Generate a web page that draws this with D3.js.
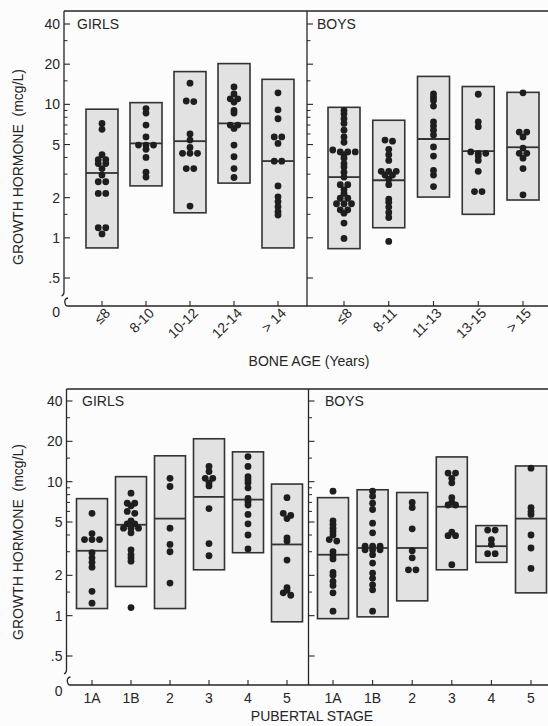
<!DOCTYPE html>
<html><head><meta charset="utf-8">
<script src="https://cdn.jsdelivr.net/npm/d3@7"></script>
<style>html,body{margin:0;background:#fcfcfc}svg{display:block}</style>
</head><body><svg id="chart" width="548" height="726"></svg>
<script>
// Y axis ticks (log scale, mcg/L)
const yMajor = [40, 20, 10, 5, 2, 1, 0.5];
const yMajorLabels = ["40", "20", "10", "5", "2", "1", ".5"];
const yMinor = [30, 15, 9, 8, 7, 6, 4, 3, 1.5];

// Bone age — girls
const boneGirlsCats = ["≤8", "8-10", "10-12", "12-14", "> 14"];
const boneGirlsLow = [0.84, 2.45, 1.54, 2.57, 0.84];
const boneGirlsMedian = [3.06, 5.1, 5.3, 7.2, 3.76];
const boneGirlsHigh = [9.2, 10.3, 17.6, 20.2, 15.4];
const boneGirlsPoints = [
  [7.2, 6.5, 4.2, 3.85, 3.85, 3.6, 3.6, 3.3, 2.95, 2.63, 2.63, 2.15, 2.15, 1.19, 1.19, 1.07],
  [9.3, 8.6, 7.0, 5.7, 4.95, 4.95, 4.95, 4.6, 4.0, 3.1, 2.85],
  [14.4, 10.6, 10.5, 6.0, 5.4, 4.75, 4.3, 4.3, 4.3, 3.3, 3.3, 1.73],
  [13.5, 12.0, 11.0, 11.0, 10.4, 9.0, 8.6, 7.0, 7.0, 6.6, 4.95, 4.05, 3.3, 2.83],
  [12.2, 9.1, 7.8, 5.7, 5.7, 5.1, 3.75, 3.75, 2.45, 2.03, 1.87, 1.71, 1.57, 1.48]
];

// Bone age — boys
const boneBoysCats = ["≤8", "8-11", "11-13", "13-15", "> 15"];
const boneBoysLow = [0.83, 1.19, 2.02, 1.5, 1.92];
const boneBoysMedian = [2.85, 2.7, 5.5, 4.46, 4.77];
const boneBoysHigh = [9.5, 7.6, 16.2, 13.6, 12.3];
const boneBoysPoints = [
  [9.0, 8.5, 7.8, 7.2, 6.4, 5.7, 5.2, 4.55, 4.4, 4.4, 4.4, 4.2, 3.95, 3.6, 3.4, 3.1, 2.85, 2.5, 2.5, 2.3, 2.15, 1.98, 1.98, 1.8, 1.8, 1.8, 1.62, 1.62, 1.53, 1.29, 0.99],
  [5.4, 5.3, 4.6, 4.2, 3.8, 3.15, 3.15, 3.15, 2.95, 2.95, 2.75, 2.5, 1.95, 1.85, 1.7, 1.55, 1.42, 0.94],
  [12.0, 11.3, 10.7, 9.7, 7.4, 6.9, 6.4, 5.9, 4.8, 4.1, 3.2, 2.95, 2.42],
  [11.9, 7.4, 6.8, 4.4, 4.3, 4.3, 4.1, 3.8, 3.15, 2.22, 2.22],
  [12.2, 6.2, 6.2, 5.7, 4.7, 4.3, 4.3, 3.95, 3.3, 2.1]
];

// Pubertal stage — girls
const pubGirlsCats = ["1A", "1B", "2", "3", "4", "5"];
const pubGirlsLow = [1.13, 1.65, 1.13, 2.2, 2.95, 0.9];
const pubGirlsMedian = [3.05, 4.77, 5.3, 7.7, 7.35, 3.4];
const pubGirlsHigh = [7.47, 10.9, 15.6, 20.9, 16.7, 9.6];
const pubGirlsPoints = [
  [5.8, 4.1, 3.7, 3.7, 3.7, 2.95, 2.7, 2.5, 2.3, 1.52, 1.24],
  [8.2, 6.9, 6.9, 6.6, 6.0, 5.8, 5.1, 4.85, 4.85, 4.5, 4.5, 4.5, 4.15, 3.1, 2.85, 2.7, 2.55, 1.15],
  [10.6, 9.2, 4.5, 3.4, 3.0, 1.75],
  [13.0, 11.9, 10.6, 10.6, 9.8, 9.3, 6.3, 3.45, 2.8],
  [15.4, 13.0, 10.9, 10.3, 9.8, 9.0, 7.5, 7.1, 6.7, 5.7, 4.85, 4.0, 3.15],
  [7.6, 5.8, 5.6, 5.3, 3.8, 3.6, 2.6, 1.62, 1.55, 1.48, 1.42]
];

// Pubertal stage — boys
const pubBoysCats = ["1A", "1B", "2", "3", "4", "5"];
const pubBoysLow = [0.95, 0.98, 1.29, 2.2, 2.5, 1.48];
const pubBoysMedian = [2.85, 3.2, 3.2, 6.5, 3.3, 5.3];
const pubBoysHigh = [7.6, 8.7, 8.3, 15.3, 4.7, 13.1];
const pubBoysPoints = [
  [8.5, 5.1, 4.8, 4.5, 4.25, 4.0, 3.7, 3.6, 3.0, 2.8, 2.65, 2.1, 2.0, 1.8, 1.68, 1.48, 1.08],
  [8.5, 7.8, 6.9, 6.2, 4.9, 4.15, 3.3, 3.3, 3.3, 3.1, 3.1, 3.1, 2.85, 2.47, 2.08, 1.9, 1.7, 1.56, 1.08],
  [7.0, 6.4, 4.45, 3.05, 2.7, 2.2, 2.2],
  [11.6, 11.6, 10.6, 9.8, 7.6, 7.0, 6.7, 6.7, 4.2, 3.95, 3.95, 2.4],
  [4.35, 4.35, 3.7, 3.4, 2.9, 2.9],
  [12.6, 6.4, 6.0, 5.7, 4.0, 3.2, 2.25]
];

const W = 548;
const INK = "#262626";
const FONT = "'Liberation Sans', Arial, Helvetica, sans-serif";
const svg = d3.select("#chart").style("font-family", FONT);

// Points whose values nearly coincide sit side by side in a centred row
function dodge(vals, y, cx, step) {
  const pts = vals.map(v => ({ v, y: y(v) })).sort((a, b) => a.y - b.y);
  const rows = [];
  pts.forEach(p => {
    const last = rows[rows.length - 1];
    if (last && Math.abs(p.y - last[0].y) < 2.5) last.push(p); else rows.push([p]);
  });
  const out = [];
  rows.forEach(r => r.forEach((p, i) => out.push({ v: p.v, y: p.y, x: cx + (i - (r.length - 1) / 2) * step })));
  return out;
}

function drawPanel(cfg) {
  const y = d3.scaleLog().domain([0.5, 40]).range(cfg.yRange);
  const g = svg.append("g");
  const line = (x1, y1, x2, y2, w) => g.append("line")
    .attr("x1", x1).attr("y1", y1).attr("x2", x2).attr("y2", y2)
    .attr("stroke", INK).attr("stroke-width", w || 1.3);

  const breakY = y(0.5) + 14;
  // frame
  line(cfg.axisX, cfg.top, W, cfg.top);
  line(cfg.axisX, cfg.top, cfg.axisX, breakY);
  line(cfg.divX, cfg.top, cfg.divX, cfg.base);
  // axis break marks and baseline
  g.append("path")
    .attr("d", `M${cfg.axisX},${breakY} q0,3 -2.5,4`)
    .attr("fill", "none").attr("stroke", INK).attr("stroke-width", 1.3);
  g.append("path")
    .attr("d", `M${cfg.axisX + 4},${cfg.base - 8} q-4,1 -3,5 q0.5,3 2,3 L${W},${cfg.base}`)
    .attr("fill", "none").attr("stroke", INK).attr("stroke-width", 1.3);

  // y ticks on the outer axis and on the divider
  [cfg.axisX, cfg.divX].forEach(ax => {
    yMajor.forEach(v => line(ax, y(v), ax + 6, y(v), 1.1));
    yMinor.forEach(v => line(ax, y(v), ax + 3.5, y(v), 1));
  });
  g.selectAll("text.ylab").data(yMajor).join("text")
    .attr("x", cfg.axisX - 4).attr("y", d => y(d)).attr("dy", "0.36em")
    .attr("text-anchor", "end").attr("font-size", 14).attr("fill", INK)
    .text((d, i) => yMajorLabels[i]);
  g.append("text").attr("x", cfg.axisX - 4).attr("y", cfg.base + 11)
    .attr("text-anchor", "end").attr("font-size", 14).attr("fill", INK).text("0");

  // y axis title
  g.append("text")
    .attr("transform", `translate(23,${cfg.titleY}) rotate(-90)`)
    .attr("text-anchor", "middle").attr("font-size", 14).attr("fill", INK)
    .attr("xml:space", "preserve")
    .text("GROWTH HORMONE  (mcg/L)");

  // x axis title
  g.append("text").attr("x", cfg.xTitleX).attr("y", cfg.xTitleY)
    .attr("text-anchor", "middle").attr("font-size", 14).attr("fill", INK)
    .text(cfg.xTitle);

  cfg.sub.forEach(s => {
    const x = d3.scalePoint().domain(s.cats).range(s.xRange);
    const sg = g.append("g");
    const bw = cfg.boxW;

    // x ticks
    s.cats.forEach(c => line(x(c), cfg.base, x(c), cfg.base - 5, 1.1));
    // category labels
    if (cfg.rotate) {
      sg.selectAll("text.cat").data(s.cats).join("text")
        .attr("transform", d => `translate(${x(d) + 9},${cfg.base + 8}) rotate(-45)`)
        .attr("text-anchor", "end").attr("font-size", 14).attr("fill", INK)
        .text(d => d);
    } else {
      sg.selectAll("text.cat").data(s.cats).join("text")
        .attr("x", d => x(d)).attr("y", cfg.base + 18)
        .attr("text-anchor", "middle").attr("font-size", 14).attr("fill", INK)
        .text(d => d);
    }

    // range boxes
    sg.selectAll("rect.box").data(s.cats).join("rect")
      .attr("x", d => x(d) - bw / 2).attr("width", bw)
      .attr("y", (d, i) => y(s.high[i]))
      .attr("height", (d, i) => y(s.low[i]) - y(s.high[i]))
      .attr("fill", "#e2e2e2").attr("stroke", "#333").attr("stroke-width", 1.6);
    // medians
    sg.selectAll("line.med").data(s.cats).join("line")
      .attr("x1", d => x(d) - bw / 2).attr("x2", d => x(d) + bw / 2)
      .attr("y1", (d, i) => y(s.median[i])).attr("y2", (d, i) => y(s.median[i]))
      .attr("stroke", "#333").attr("stroke-width", 1.8);
    // individual values
    s.cats.forEach((c, i) => {
      sg.append("g").selectAll("circle").data(dodge(s.points[i], y, x(c), 7.5)).join("circle")
        .attr("cx", d => d.x).attr("cy", d => d.y).attr("r", 3.4).attr("fill", "#1e1e1e");
    });

    // group label
    sg.append("text").attr("x", s.labelX).attr("y", y(40)).attr("dy", "0.36em")
      .attr("font-size", 14).attr("fill", INK).text(s.label);
  });
}

drawPanel({
  top: 11, base: 306, axisX: 64, divX: 307, yRange: [278, 24], boxW: 32, rotate: true,
  titleY: 167, xTitle: "BONE AGE (Years)", xTitleX: 309, xTitleY: 366,
  sub: [
    { label: "GIRLS", labelX: 77, cats: boneGirlsCats, xRange: [102, 278],
      low: boneGirlsLow, median: boneGirlsMedian, high: boneGirlsHigh, points: boneGirlsPoints },
    { label: "BOYS", labelX: 317, cats: boneBoysCats, xRange: [344, 523],
      low: boneBoysLow, median: boneBoysMedian, high: boneBoysHigh, points: boneBoysPoints }
  ]
});

drawPanel({
  top: 389, base: 685, axisX: 66.5, divX: 308.5, yRange: [656, 401], boxW: 31, rotate: false,
  titleY: 542, xTitle: "PUBERTAL STAGE", xTitleX: 312, xTitleY: 721,
  sub: [
    { label: "GIRLS", labelX: 82, cats: pubGirlsCats, xRange: [92, 287],
      low: pubGirlsLow, median: pubGirlsMedian, high: pubGirlsHigh, points: pubGirlsPoints },
    { label: "BOYS", labelX: 325, cats: pubBoysCats, xRange: [333, 531],
      low: pubBoysLow, median: pubBoysMedian, high: pubBoysHigh, points: pubBoysPoints }
  ]
});
</script></body></html>
